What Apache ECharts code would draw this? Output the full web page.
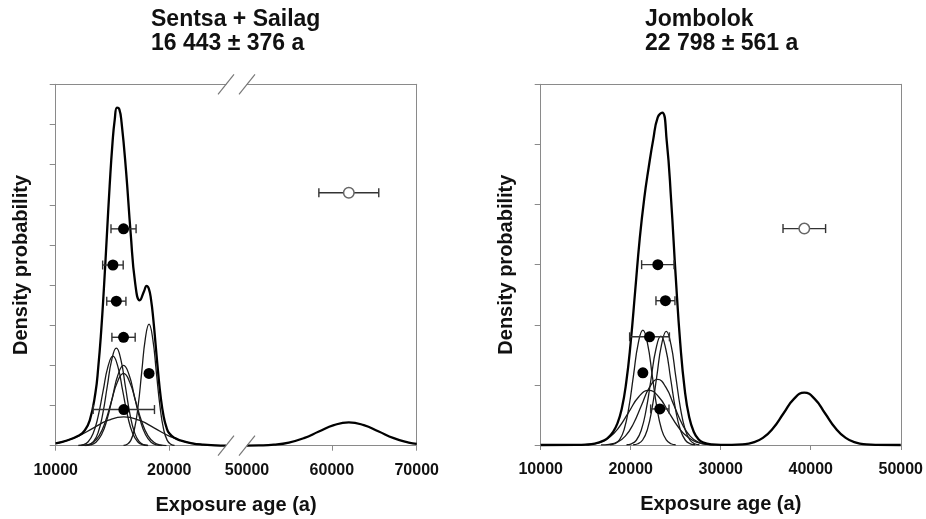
<!DOCTYPE html>
<html>
<head>
<meta charset="utf-8">
<script src="https://cdn.jsdelivr.net/npm/echarts@6.0.0/dist/echarts.min.js"></script>
<style>html,body{margin:0;padding:0;background:#fff;}#chart{width:926px;height:519px;}</style>
</head>
<body>
<div id="chart"></div>
<script>
// ---------- DATA ----------
const leftTitle = 'Sentsa + Sailag\n16 443 ± 376 a';
const rightTitle = 'Jombolok\n22 798 ± 561 a';
const xName = 'Exposure age (a)';
const yName = 'Density probability';

const leftLowTicks = [10000, 20000];
const leftHighTickLabels = [50000, 60000, 70000];
const leftHighTicks = [60000, 70000];
const rightTicks = [10000, 20000, 30000, 40000, 50000];

// Sentsa + Sailag: summed probability curve (10000-25000 segment)
const leftSum = [[10000,0.06],[11000,0.13],[12000,0.25],[12500,0.36],[13000,0.63],[13500,1.32],[13750,1.96],[14000,2.83],[14250,3.94],[14500,5.20],[14750,6.46],[15000,7.53],[15200,8.12],[15400,8.42],[15600,8.38],[15800,8.05],[16200,6.83],[16600,5.30],[17000,4.05],[17400,3.62],[17800,3.86],[18000,3.98],[18200,3.91],[18400,3.63],[18600,3.14],[18800,2.52],[19000,1.89],[19250,1.21],[19500,0.74],[19750,0.46],[20000,0.31],[20500,0.19],[21000,0.13],[22000,0.06],[23000,0.025],[24000,0.01],[25000,0.003]];
// Sentsa + Sailag: outlier curve (50000-70000 segment)
const leftSumHigh = [[50000,0.002],[51410,0.006],[53175,0.025],[54940,0.079],[56705,0.188],[58470,0.352],[60235,0.512],[62000,0.58],[63765,0.512],[65530,0.352],[67295,0.188],[69060,0.079],[70000,0.044]];
// Sentsa + Sailag: individual sample curves
const leftCurve1 = [[12195,0.004],[12735,0.02],[13275,0.079],[13815,0.244],[14355,0.584],[14895,1.092],[15435,1.589],[15975,1.80],[16515,1.589],[17055,1.092],[17595,0.584],[18135,0.244],[18675,0.079],[19215,0.02],[19755,0.004]];
const leftCurve2 = [[11988,0.005],[12424,0.025],[12860,0.098],[13296,0.302],[13732,0.724],[14168,1.352],[14604,1.968],[15040,2.23],[15476,1.968],[15912,1.352],[16348,0.724],[16784,0.302],[17220,0.098],[17656,0.025],[18092,0.005]];
const leftCurve3 = [[12540,0.005],[12940,0.027],[13340,0.107],[13740,0.329],[14140,0.789],[14540,1.474],[14940,2.144],[15340,2.43],[15740,2.144],[16140,1.474],[16540,0.789],[16940,0.329],[17340,0.107],[17740,0.027],[18140,0.005]];
const leftCurve4 = [[12573,0.004],[13059,0.022],[13545,0.088],[14031,0.271],[14517,0.649],[15003,1.213],[15489,1.765],[15975,2.00],[16461,1.765],[16947,1.213],[17433,0.649],[17919,0.271],[18405,0.088],[18891,0.022],[19377,0.004]];
const leftCurve5 = [[15973,0.007],[16294,0.034],[16615,0.133],[16936,0.41],[17257,0.984],[17578,1.838],[17899,2.674],[18220,3.03],[18541,2.674],[18862,1.838],[19183,0.984],[19504,0.41],[19825,0.133],[20146,0.034],[20467,0.007]];
const leftCurve6 = [[10000,0.061],[10600,0.097],[11950,0.234],[13300,0.437],[14650,0.635],[16000,0.72],[17350,0.635],[18700,0.437],[20050,0.234],[21400,0.097],[22750,0.032],[24100,0.008],[25000,0.003]];

// Sentsa + Sailag: sample ages with errors (plotted at stacked heights)
const leftPointAge = [15975, 15040, 15340, 15975, 18220, 16000];
const leftPointErr = [1105, 905, 845, 1025, 200, 2700];
const leftPointLevel = [5.4, 4.5, 3.6, 2.7, 1.8, 0.9];
const leftOutlierAge = [62000];
const leftOutlierErr = [3530];
const leftOutlierLevel = [6.3];

// Jombolok: summed probability curve
const rightSum = [[10000,0],[14000,0.001],[15000,0.006],[16000,0.023],[17000,0.073],[17500,0.124],[18000,0.208],[18500,0.35],[19000,0.60],[19500,1.04],[20000,1.71],[20500,2.57],[21000,3.43],[21500,4.10],[22000,4.62],[22500,5.08],[23000,5.45],[23500,5.53],[24000,5.06],[24500,4.05],[25000,2.80],[25500,1.70],[26000,0.92],[26500,0.46],[27000,0.22],[27500,0.10],[28000,0.046],[29000,0.01],[30000,0.002],[31235,0.002],[32385,0.01],[33535,0.038],[34685,0.118],[35835,0.283],[36985,0.528],[38135,0.768],[39285,0.87],[40435,0.768],[41585,0.528],[42735,0.283],[43885,0.118],[45035,0.038],[46185,0.01],[47335,0.002],[50000,0]];
// Jombolok: individual sample curves
const rightCurve1 = [[16700,0.002],[17600,0.012],[18500,0.048],[19400,0.147],[20300,0.354],[21200,0.661],[22100,0.962],[23000,1.09],[23900,0.962],[24800,0.661],[25700,0.354],[26600,0.147],[27500,0.048],[28400,0.012],[29300,0.002]];
const rightCurve2 = [[20275,0.004],[20800,0.021],[21325,0.083],[21850,0.256],[22375,0.614],[22900,1.146],[23425,1.668],[23950,1.89],[24475,1.668],[25000,1.146],[25525,0.614],[26050,0.256],[26575,0.083],[27100,0.021],[27625,0.004]];
const rightCurve3 = [[14300,0.002],[15400,0.01],[16500,0.04],[17600,0.123],[18700,0.295],[19800,0.552],[20900,0.803],[22000,0.91],[23100,0.803],[24200,0.552],[25300,0.295],[26400,0.123],[27500,0.04],[28600,0.01],[29700,0.002]];
const rightCurve4 = [[17710,0.004],[18230,0.021],[18750,0.084],[19270,0.258],[19790,0.62],[20310,1.158],[20830,1.686],[21350,1.91],[21870,1.686],[22390,1.158],[22910,0.62],[23430,0.258],[23950,0.084],[24470,0.021],[24990,0.004]];
const rightCurve5 = [[19535,0.004],[20080,0.02],[20625,0.079],[21170,0.245],[21715,0.588],[22260,1.098],[22805,1.597],[23350,1.81],[23895,1.597],[24440,1.098],[24985,0.588],[25530,0.245],[26075,0.079],[26620,0.02],[27165,0.004]];

// Jombolok: sample ages with errors
const rightPointAge = [23012, 23860, 22090, 21350, 23233];
const rightPointErr = [1800, 1055, 2210, 250, 1020];
const rightPointLevel = [3.0, 2.4, 1.8, 1.2, 0.6];
const rightOutlierAge = [39285];
const rightOutlierErr = [2365];
const rightOutlierLevel = [3.6];

// ---------- CHART ----------
const FONT = '"Liberation Sans", Arial, Helvetica, sans-serif';
const AX = '#8a8a8a';
const INK = '#111';

const chart = echarts.init(document.getElementById('chart'), null, {renderer: 'canvas'});

function bottomAxis(grid, min, max, tickVals, labelVals, extra) {
  return Object.assign({
    type: 'value', gridIndex: grid, position: 'bottom', min: min, max: max,
    axisLine: {show: true, onZero: false, lineStyle: {color: AX, width: 1}},
    axisTick: {show: true, inside: false, length: 5, customValues: tickVals, lineStyle: {color: AX}},
    axisLabel: {show: true, customValues: labelVals, margin: 17, formatter: v => String(v),
      fontFamily: FONT, fontSize: 16, fontWeight: 'bold', color: INK},
    splitLine: {show: false}
  }, extra || {});
}
function topAxis(grid, min, max) {
  return {
    type: 'value', gridIndex: grid, position: 'top', min: min, max: max,
    axisLine: {show: true, onZero: false, lineStyle: {color: AX, width: 1}},
    axisTick: {show: false}, axisLabel: {show: false}, splitLine: {show: false}
  };
}
function leftYAxis(grid, max, withName) {
  const ax = {
    type: 'value', gridIndex: grid, position: 'left', min: 0, max: max, interval: 1,
    axisLine: {show: true, onZero: false, lineStyle: {color: AX, width: 1}},
    axisTick: {show: true, inside: false, length: 6, lineStyle: {color: AX}},
    axisLabel: {show: false}, splitLine: {show: false}
  };
  if (withName) {
    ax.name = yName; ax.nameLocation = 'middle'; ax.nameGap = 24;
    ax.nameTextStyle = {fontFamily: FONT, fontSize: 20, fontWeight: 'bold', color: INK};
  }
  return ax;
}
function rightYAxis(grid, max) {
  return {
    type: 'value', gridIndex: grid, position: 'right', min: 0, max: max,
    axisLine: {show: true, onZero: false, lineStyle: {color: AX, width: 1}},
    axisTick: {show: false}, axisLabel: {show: false}, splitLine: {show: false}
  };
}

function sumLine(data, xi, yi) {
  return {type: 'line', data: data, xAxisIndex: xi, yAxisIndex: yi, smooth: 0.5, showSymbol: false, clip: false,
    lineStyle: {color: '#000', width: 2.3}, z: 5, silent: true};
}
function compLine(data, xi, yi) {
  return {type: 'line', data: data, xAxisIndex: xi, yAxisIndex: yi, smooth: 0.5, showSymbol: false, clip: true,
    lineStyle: {color: '#1a1a1a', width: 1.3}, z: 3, silent: true};
}
function errRender(params, api) {
  const y = api.value(1);
  const a = api.coord([api.value(2), y]);
  const b = api.coord([api.value(3), y]);
  const h = 4.5;
  const st = {stroke: '#333', lineWidth: 1.4};
  return {type: 'group', children: [
    {type: 'line', shape: {x1: a[0], y1: a[1], x2: b[0], y2: b[1]}, style: st},
    {type: 'line', shape: {x1: a[0], y1: a[1] - h, x2: a[0], y2: a[1] + h}, style: st},
    {type: 'line', shape: {x1: b[0], y1: b[1] - h, x2: b[0], y2: b[1] + h}, style: st}
  ]};
}
function errSeries(ages, errs, levels, xi, yi) {
  return {type: 'custom', xAxisIndex: xi, yAxisIndex: yi, renderItem: errRender, z: 8, silent: true,
    encode: {x: [0, 2, 3], y: 1},
    data: ages.map((a, i) => [a, levels[i], a - errs[i], a + errs[i]])};
}
function dotSeries(ages, levels, xi, yi, open) {
  return {type: 'scatter', xAxisIndex: xi, yAxisIndex: yi, symbol: 'circle', symbolSize: open ? 10.5 : 11, z: 10, silent: true,
    itemStyle: open ? {color: '#fff', borderColor: '#666', borderWidth: 1.5, opacity: 1} : {color: '#000', opacity: 1},
    data: ages.map((a, i) => [a, levels[i]])};
}

const titleStyle = {fontFamily: FONT, fontSize: 23, fontWeight: 'bold', color: INK, lineHeight: 24};

const option = {
  animation: false,
  backgroundColor: '#fff',
  title: [
    {text: leftTitle, left: 151, top: 8, padding: 0, textStyle: titleStyle},
    {text: rightTitle, left: 645, top: 8, padding: 0, textStyle: titleStyle},
    {text: xName, left: 236, top: 495, padding: 0, textAlign: 'center',
      textStyle: {fontFamily: FONT, fontSize: 20, fontWeight: 'bold', color: INK, lineHeight: 20}}
  ],
  grid: [
    {left: 55.7, top: 84.3, width: 170.3, height: 361.4},
    {left: 247, top: 84.3, width: 169.7, height: 361.4},
    {left: 540.7, top: 84.3, width: 360.6, height: 361.4}
  ],
  xAxis: [
    bottomAxis(0, 10000, 25000, leftLowTicks, leftLowTicks),
    topAxis(0, 10000, 25000),
    bottomAxis(1, 50000, 70000, leftHighTicks, leftHighTickLabels),
    topAxis(1, 50000, 70000),
    bottomAxis(2, 10000, 50000, rightTicks, rightTicks, {
      name: xName, nameLocation: 'middle', nameGap: 49,
      nameTextStyle: {fontFamily: FONT, fontSize: 20, fontWeight: 'bold', color: INK, lineHeight: 20}
    }),
    topAxis(2, 10000, 50000)
  ],
  yAxis: [
    leftYAxis(0, 9, true),
    rightYAxis(1, 9),
    leftYAxis(2, 6, true),
    rightYAxis(2, 6)
  ],
  graphic: [
    {type: 'line', shape: {x1: 218, y1: 455.7, x2: 234, y2: 435.7}, style: {stroke: '#777', lineWidth: 1.2}, z: 20},
    {type: 'line', shape: {x1: 239, y1: 455.7, x2: 255, y2: 435.7}, style: {stroke: '#777', lineWidth: 1.2}, z: 20},
    {type: 'line', shape: {x1: 218, y1: 94.3, x2: 234, y2: 74.3}, style: {stroke: '#777', lineWidth: 1.2}, z: 20},
    {type: 'line', shape: {x1: 239, y1: 94.3, x2: 255, y2: 74.3}, style: {stroke: '#777', lineWidth: 1.2}, z: 20}
  ],
  series: [
    compLine(leftCurve1, 0, 0), compLine(leftCurve2, 0, 0), compLine(leftCurve3, 0, 0),
    compLine(leftCurve4, 0, 0), compLine(leftCurve5, 0, 0), compLine(leftCurve6, 0, 0),
    sumLine(leftSum, 0, 0),
    sumLine(leftSumHigh, 2, 1),
    errSeries(leftPointAge, leftPointErr, leftPointLevel, 0, 0),
    dotSeries(leftPointAge, leftPointLevel, 0, 0, false),
    errSeries(leftOutlierAge, leftOutlierErr, leftOutlierLevel, 2, 1),
    dotSeries(leftOutlierAge, leftOutlierLevel, 2, 1, true),

    compLine(rightCurve1, 4, 2), compLine(rightCurve2, 4, 2), compLine(rightCurve3, 4, 2),
    compLine(rightCurve4, 4, 2), compLine(rightCurve5, 4, 2),
    sumLine(rightSum, 4, 2),
    errSeries(rightPointAge, rightPointErr, rightPointLevel, 4, 2),
    dotSeries(rightPointAge, rightPointLevel, 4, 2, false),
    errSeries(rightOutlierAge, rightOutlierErr, rightOutlierLevel, 4, 2),
    dotSeries(rightOutlierAge, rightOutlierLevel, 4, 2, true)
  ]
};
chart.setOption(option);
</script>
</body>
</html>
